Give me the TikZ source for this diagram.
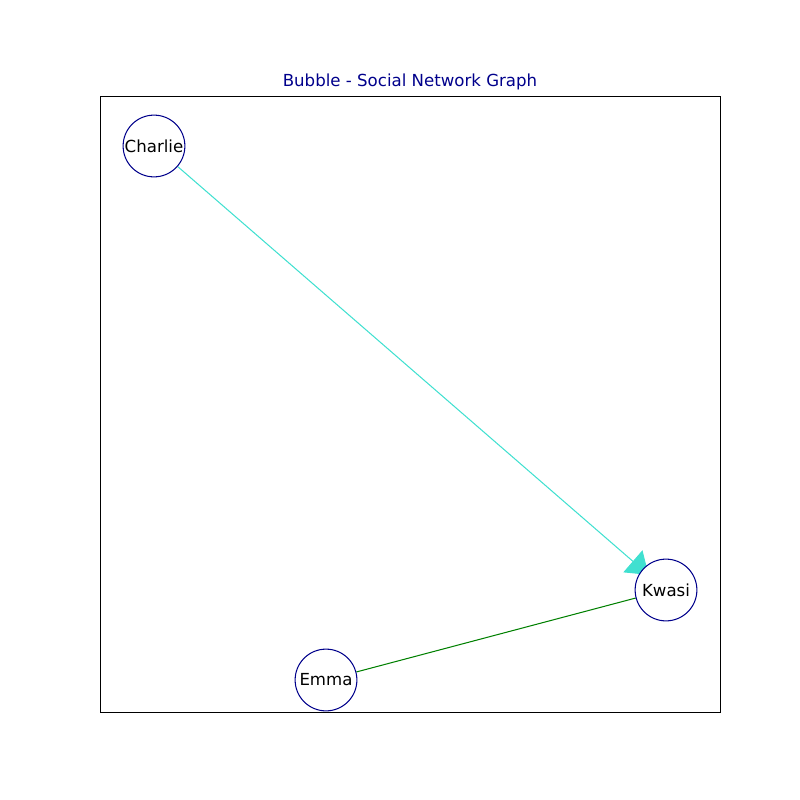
\documentclass[tikz,border=0pt]{standalone}
\usepackage{fontspec}
\setmainfont{DejaVu Sans}
\usetikzlibrary{arrows.meta,backgrounds}
\definecolor{dblue}{RGB}{0,0,139}
\definecolor{turq}{RGB}{64,224,208}
\definecolor{egreen}{RGB}{0,128,0}
\begin{document}
\begin{tikzpicture}[x=0.0254cm,y=-0.0254cm,
  person/.style={circle,draw=dblue,fill=white,line width=0.75pt,minimum size=62*0.72pt,inner sep=0pt,font=\fontsize{12}{14}\selectfont},
  friend/.style={line width=0.75pt}]
\useasboundingbox (0,0) rectangle (800,800);
\node[font=\fontsize{12}{14}\selectfont,text=dblue] (title) at (410,82) {Bubble - Social Network Graph};
\coordinate (fa) at (100,96);
\coordinate (fb) at (720,712);
\draw[line width=0.6pt] (fa) rectangle (fb);
\node[person] (charlie) at (154,146) {Charlie};
\node[person] (kwasi) at (666,590) {Kwasi};
\node[person] (emma) at (326,680) {Emma};
\begin{pgfonlayer}{background}
\draw[friend,turq,-{Triangle[length=15pt,width=21pt]},shorten >=-6pt] (charlie) -- (kwasi);
\draw[friend,egreen] (emma) -- (kwasi);
\end{pgfonlayer}
\end{tikzpicture}
\end{document}
